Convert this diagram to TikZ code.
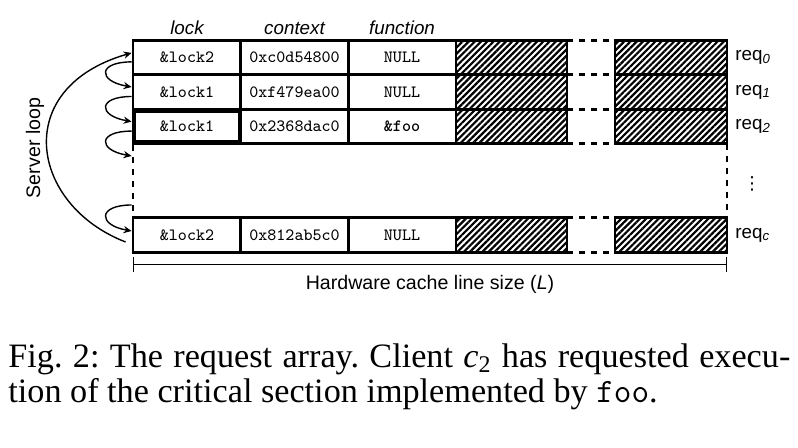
\documentclass[tikz,border=0pt]{standalone}
\usepackage{fontspec}
\setmainfont{Liberation Serif}
\setsansfont{Liberation Sans}
\newfontfamily\symfont{DejaVu Sans}
\usetikzlibrary{positioning,patterns.meta,arrows.meta}

\begin{document}
\begin{tikzpicture}[x=0.5pt,y=-0.5pt,
    cell/.style={
% The shape:
      rectangle, inner sep=0pt,
% The size:
      minimum width=54pt, minimum height=17.25pt,
% The border:
      draw, line width=1.4pt,
      % Font
      font=\fontsize{8.6}{10}\ttfamily
    },
    held/.style={cell, line width=2.4pt, minimum width=53pt, minimum height=16.25pt},
    pad/.style={cell, outer sep=0pt, minimum width=55.5pt,
      pattern={Lines[angle=45,distance=2.2pt,line width=1.1pt]}},
    gapline/.style={line width=1.4pt, dash pattern=on 3pt off 3pt},
    head/.style={inner sep=0pt, font=\fontsize{9.4}{11}\sffamily\itshape},
    tag/.style={inner sep=0pt, font=\fontsize{9.4}{11}\sffamily},
    hop/.style={-{Stealth[length=4pt,width=3.6pt]}, line width=0.7pt}
  ]
  \useasboundingbox (0,0) rectangle (798,448);

  % the request array
  \foreach \r/\y/\lk/\ctx/\fn in {0/57.4/\&lock2/0xc0d54800/NULL,
      1/92/\&lock1/0xf479ea00/NULL, 2/126.6/\&lock1/0x2368dac0/\textbf{\&foo},
      c/235/\&lock2/0x812ab5c0/NULL}{
    \node [cell] (lock\r) at (187,\y) {\lk};
    \node [cell] (ctx\r) at (294.5,\y) {\ctx};
    \node [cell] (fn\r) at (402,\y) {\fn};
    \node [pad] (padA\r) at (511.5,\y) {};
    \node [pad, minimum width=56pt] (padB\r) at (671,\y) {};
    \draw [gapline] (padA\r.north east) -- (padB\r.north west)
      (padA\r.south east) -- (padB\r.south west);
    \node [tag, right=4pt of padB\r] (req\r) {req\textsubscript{\itshape\r}};
  }
  \node [held] (lockheld) at (lock2.center) {};

  \node [head, above=2pt of lock0] (hlock) {lock};
  \node [head, above=2pt of ctx0] (hctx) {context};
  \node [head, above=2pt of fn0] (hfn) {function};

  \draw [gapline] ([xshift=0.7pt]lock2.south west) -- ([xshift=0.7pt]lockc.north west);
  \draw [gapline] (padB2.south east) -- (padBc.north east);
  \node [tag, font=\fontsize{9}{10}\symfont] (more) at (752,184) {⋮};

  % server loop
  \coordinate (gapTop) at (131.6,156);
  \coordinate (gapBot) at (131.6,205);
  \draw [hop] ([yshift=-2.25pt]lock0.west) .. controls +(-34,0) and +(-34,-6) .. ([yshift=2.5pt]lock1.west);
  \draw [hop] ([yshift=-2.25pt]lock1.west) .. controls +(-34,0) and +(-34,-6) .. ([yshift=2.5pt]lock2.west);
  \draw [hop] ([yshift=-2.25pt]lock2.west) .. controls +(-34,0) and +(-34,-6) .. (gapTop);
  \draw [hop] (gapBot) .. controls +(-34,0) and +(-34,-6) .. ([yshift=2pt]lockc.west);
  \draw [hop] ([xshift=-3pt,yshift=-3.5pt]lockc.west) .. controls +(-95.6,-37) and +(-121.6,35) .. ([yshift=2.25pt]lock0.west);
  \node [tag, rotate=90, font=\fontsize{9.8}{11}\sffamily] (srv) at (35,148) {Server loop};

  % cache line size
  \coordinate (barL) at (133,265);
  \coordinate (barR) at (727,265);
  \draw [{Bar[width=7.5pt]}-{Bar[width=7.5pt]}, line width=0.5pt] (barL) -- (barR);
  \node [tag, font=\fontsize{9.8}{11}\sffamily] (size) at (430,284) {Hardware cache line size (\textit{L})};

  \node [anchor=north west, inner sep=0pt, text width=391pt, align=justify,
    font=\fontsize{17.1}{17.5}\selectfont\frenchspacing] (caption) at (8,343)
    {Fig.~2: The request array. Client \textit{c}\textsubscript{2} has requested execu-\linebreak
     tion of the critical section implemented by \texttt{foo}.};
\end{tikzpicture}
\end{document}
